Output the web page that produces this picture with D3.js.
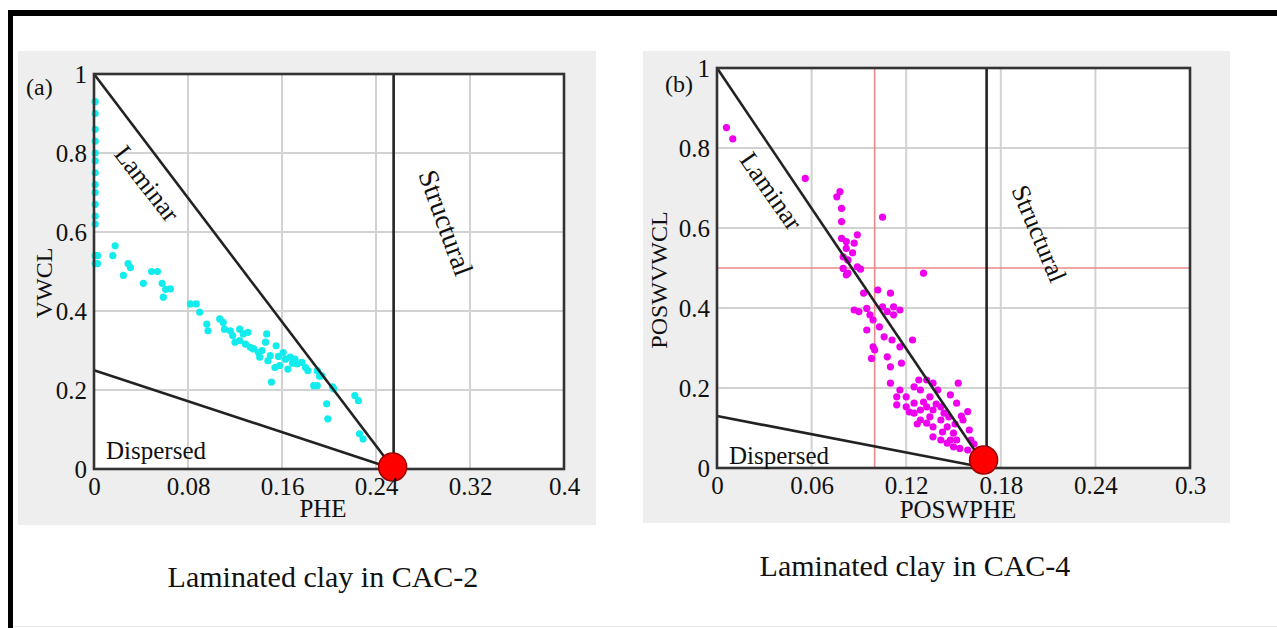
<!DOCTYPE html>
<html>
<head>
<meta charset="utf-8">
<script src="https://cdn.jsdelivr.net/npm/d3@7"></script>
<style>
  html, body { margin: 0; padding: 0; background: #fff; }
  svg { display: block; }
  text { font-family: "Liberation Serif", "Times New Roman", serif; fill: #111; }
</style>
</head>
<body>
<svg id="fig" width="1277" height="628"></svg>
<script>
// ---- Laminated clay, CAC-2 (cyan points) ----
const phe2 = [
  0.001, 0.001, 0.001, 0.001, 0.001, 0.001, 0.001, 0.001, 0.001, 0.001, 0.001, 0.001, 0.001, 0.001,
  0.003, 0.003, 0.018, 0.016, 0.029, 0.031, 0.025, 0.042, 0.049, 0.054, 0.058, 0.061, 0.059, 0.065,
  0.082, 0.087, 0.090, 0.096, 0.097, 0.107, 0.110, 0.111, 0.116,
  0.124, 0.127, 0.131, 0.120, 0.124, 0.129, 0.133, 0.136, 0.140, 0.141, 0.147, 0.146, 0.150, 0.148,
  0.155, 0.154, 0.158, 0.161, 0.163, 0.165, 0.167, 0.171, 0.173, 0.177, 0.180, 0.182, 0.190, 0.194,
  0.187, 0.190, 0.204, 0.222, 0.225, 0.198, 0.151, 0.199, 0.226, 0.229, 0.203, 0.192,
  0.118, 0.135, 0.143, 0.157, 0.169
];
const vwcl2 = [
  0.93, 0.90, 0.86, 0.83, 0.80, 0.78, 0.75, 0.72, 0.70, 0.67, 0.64, 0.62, 0.54, 0.52,
  0.54, 0.52, 0.565, 0.54, 0.52, 0.51, 0.49, 0.47, 0.50, 0.50, 0.47, 0.455, 0.435, 0.456,
  0.418, 0.418, 0.397, 0.367, 0.350, 0.380, 0.371, 0.354, 0.350,
  0.354, 0.342, 0.346, 0.321, 0.325, 0.316, 0.308, 0.304, 0.295, 0.283, 0.342, 0.321, 0.287, 0.274,
  0.312, 0.257, 0.262, 0.295, 0.278, 0.253, 0.283, 0.278, 0.266, 0.270, 0.257, 0.249, 0.249, 0.236,
  0.211, 0.211, 0.203, 0.186, 0.173, 0.165, 0.220, 0.127, 0.089, 0.076, 0.208, 0.235,
  0.338, 0.305, 0.300, 0.285, 0.268
];

// ---- Laminated clay, CAC-4 (magenta points) ----
const poswphe4 = [
  0.006, 0.010, 0.056, 0.076, 0.078, 0.079, 0.079, 0.105,
  0.079, 0.082, 0.089, 0.087, 0.082, 0.086, 0.080, 0.083, 0.091, 0.083, 0.131, 0.082,
  0.080, 0.083, 0.089,
  0.093, 0.102, 0.110, 0.087, 0.090, 0.095, 0.097, 0.099, 0.095, 0.105, 0.108, 0.112, 0.116, 0.112,
  0.103, 0.106, 0.111, 0.116, 0.124, 0.099, 0.098, 0.108, 0.110, 0.117, 0.100,
  0.110, 0.116, 0.114, 0.120, 0.125, 0.128, 0.129, 0.133, 0.137, 0.140, 0.135, 0.153, 0.114,
  0.148, 0.152, 0.159, 0.156, 0.160, 0.161,
  0.120, 0.125, 0.129, 0.133, 0.137, 0.142, 0.129, 0.133, 0.137, 0.142, 0.146, 0.150,
  0.137, 0.142, 0.146, 0.150, 0.154, 0.148, 0.152, 0.159, 0.125, 0.144, 0.147, 0.135,
  0.131, 0.139, 0.143, 0.151, 0.155, 0.163, 0.127, 0.122
];
const poswvwcl4 = [
  0.851, 0.823, 0.724, 0.678, 0.691, 0.649, 0.616, 0.627,
  0.574, 0.566, 0.583, 0.562, 0.549, 0.538, 0.528, 0.520, 0.497, 0.487, 0.487, 0.483,
  0.499, 0.520, 0.503,
  0.437, 0.445, 0.437, 0.395, 0.391, 0.399, 0.383, 0.370, 0.345, 0.403, 0.391, 0.403, 0.395, 0.383,
  0.353, 0.328, 0.320, 0.303, 0.320, 0.303, 0.274, 0.278, 0.253, 0.262, 0.295,
  0.212, 0.195, 0.158, 0.178, 0.203, 0.220, 0.195, 0.220, 0.212, 0.195, 0.178, 0.212, 0.178,
  0.183, 0.162, 0.141, 0.120, 0.095, 0.070,
  0.153, 0.137, 0.145, 0.153, 0.145, 0.153, 0.120, 0.112, 0.103, 0.120, 0.103, 0.087,
  0.078, 0.070, 0.062, 0.053, 0.049, 0.070, 0.070, 0.045, 0.162, 0.137, 0.128, 0.128,
  0.165, 0.160, 0.090, 0.110, 0.130, 0.060, 0.110, 0.140
];

const xTicks2 = [0, 0.08, 0.16, 0.24, 0.32, 0.4];
const xTicks4 = [0, 0.06, 0.12, 0.18, 0.24, 0.3];
const yTicks = [0, 0.2, 0.4, 0.6, 0.8, 1];

// clay end-point (x value where the Laminar, Dispersed and Structural lines meet)
const clayPoint2 = 0.255;
const clayPoint4 = 0.171;
// y intercept of the Dispersed boundary
const dispersedStart2 = 0.25;
const dispersedStart4 = 0.13;
// reference cross lines on panel (b)
const crossX4 = 0.1;
const crossY4 = 0.5;

const svg = d3.select("#fig");

// page frame
svg.append("rect").attr("x", 8).attr("y", 10).attr("width", 1269).attr("height", 6).attr("fill", "#000");
svg.append("rect").attr("x", 8).attr("y", 10).attr("width", 5).attr("height", 618).attr("fill", "#000");
svg.append("line").attr("x1", 13).attr("x2", 1277).attr("y1", 626.5).attr("y2", 626.5)
  .attr("stroke", "#e6e6e6").attr("stroke-width", 1);

function fmt(v) { return v === 0 ? "0" : String(+v.toFixed(2)); }

function drawPanel(cfg) {
  const g = svg.append("g");
  // grey panel
  g.append("rect").attr("x", cfg.panel[0]).attr("y", cfg.panel[1])
    .attr("width", cfg.panel[2]).attr("height", cfg.panel[3]).attr("fill", "#eeeeee");

  const x = d3.scaleLinear().domain([0, cfg.xMax]).range([cfg.left, cfg.right]);
  const y = d3.scaleLinear().domain([0, 1]).range([cfg.bottom, cfg.top]);

  // plot area
  g.append("rect").attr("x", cfg.left).attr("y", cfg.top)
    .attr("width", cfg.right - cfg.left).attr("height", cfg.bottom - cfg.top).attr("fill", "#fff");

  // grid
  const grid = g.append("g").attr("stroke", "#d2d2d2").attr("stroke-width", 2);
  cfg.xTicks.slice(1, -1).forEach(t => grid.append("line")
    .attr("x1", x(t)).attr("x2", x(t)).attr("y1", cfg.top).attr("y2", cfg.bottom));
  yTicks.slice(1, -1).forEach(t => grid.append("line")
    .attr("x1", cfg.left).attr("x2", cfg.right).attr("y1", y(t)).attr("y2", y(t)));

  // optional reference cross
  if (cfg.cross) {
    g.append("line").attr("x1", x(cfg.cross[0])).attr("x2", x(cfg.cross[0]))
      .attr("y1", cfg.top).attr("y2", cfg.bottom).attr("stroke", "#e88a8a").attr("stroke-width", 1.6);
    g.append("line").attr("x1", cfg.left).attr("x2", cfg.right)
      .attr("y1", y(cfg.cross[1])).attr("y2", y(cfg.cross[1])).attr("stroke", "#e88a8a").attr("stroke-width", 1.6);
  }

  // data points
  g.append("g").selectAll("circle").data(cfg.xs.map((v, i) => [v, cfg.ys[i]])).join("circle")
    .attr("cx", d => x(d[0])).attr("cy", d => y(d[1])).attr("r", 3.6).attr("fill", cfg.color);

  // Thomas-Stieber boundary lines
  const lines = g.append("g").attr("stroke", "#222").attr("stroke-width", 2.6).attr("fill", "none");
  lines.append("line").attr("x1", x(0)).attr("y1", y(1)).attr("x2", x(cfg.clay)).attr("y2", y(0));
  lines.append("line").attr("x1", x(0)).attr("y1", y(cfg.disp)).attr("x2", x(cfg.clay)).attr("y2", y(0));
  lines.append("line").attr("x1", x(cfg.clay)).attr("y1", y(1)).attr("x2", x(cfg.clay)).attr("y2", y(0));

  // frame
  g.append("rect").attr("x", cfg.left).attr("y", cfg.top)
    .attr("width", cfg.right - cfg.left).attr("height", cfg.bottom - cfg.top)
    .attr("fill", "none").attr("stroke", "#333").attr("stroke-width", 2.6);

  // clay point
  g.append("circle").attr("cx", x(cfg.clay) - cfg.dotShift[0]).attr("cy", y(0) - cfg.dotShift[1]).attr("r", 14)
    .attr("fill", "#ff0000").attr("stroke", "#9a0000").attr("stroke-width", 1.5);

  // axes (labels only, frame drawn above)
  const xAxis = d3.axisBottom(x).tickValues(cfg.xTicks).tickFormat(fmt).tickSize(0).tickPadding(8);
  const xa = g.append("g").attr("transform", `translate(0,${cfg.bottom})`).call(xAxis);
  const yAxis = d3.axisLeft(y).tickValues(yTicks).tickFormat(fmt).tickSize(0).tickPadding(7);
  const ya = g.append("g").attr("transform", `translate(${cfg.left},0)`).call(yAxis);
  [xa, ya].forEach(a => {
    a.select(".domain").remove();
    a.selectAll("text").attr("font-family", "Liberation Serif, serif").attr("font-size", 25).attr("fill", "#111");
  });

  // axis titles
  g.append("text").attr("x", cfg.xTitle[0]).attr("y", cfg.xTitle[1]).attr("text-anchor", "middle")
    .attr("font-size", 25).text(cfg.xLabel);
  g.append("text").attr("transform", `translate(${cfg.yTitle[0]},${cfg.yTitle[1]}) rotate(-90)`)
    .attr("text-anchor", "middle").attr("font-size", 24).text(cfg.yLabel);

  // panel tag
  g.append("text").attr("x", cfg.tag[0]).attr("y", cfg.tag[1]).attr("font-size", 24).text(cfg.tagText);

  // region labels
  g.append("text").attr("transform", `translate(${cfg.lam[0]},${cfg.lam[1]}) rotate(${cfg.lam[2]})`)
    .attr("text-anchor", "middle").attr("font-size", 26).text("Laminar");
  g.append("text").attr("transform", `translate(${cfg.str[0]},${cfg.str[1]}) rotate(${cfg.str[2]})`)
    .attr("text-anchor", "middle").attr("font-size", cfg.str[3]).text("Structural");
  g.append("text").attr("x", cfg.dsp[0]).attr("y", cfg.dsp[1]).attr("font-size", 25).text("Dispersed");

  // caption
  svg.append("text").attr("x", cfg.caption[0]).attr("y", cfg.caption[1]).attr("text-anchor", "middle")
    .attr("font-size", 30).text(cfg.captionText);
}

drawPanel({
  panel: [18, 51, 578, 474],
  left: 94, right: 564, top: 74, bottom: 469,
  xMax: 0.4, xTicks: xTicks2,
  xs: phe2, ys: vwcl2, color: "#12ecec",
  clay: clayPoint2, disp: dispersedStart2, dotShift: [1, 2],
  xLabel: "PHE", xTitle: [323, 517],
  yLabel: "VWCL", yTitle: [52, 283],
  tag: [26, 95], tagText: "(a)",
  lam: [140, 189, 52], str: [437, 226, 70, 28], dsp: [106, 459],
  caption: [323, 587], captionText: "Laminated clay in CAC-2"
});

drawPanel({
  panel: [643, 51, 587, 472],
  left: 717, right: 1190, top: 68, bottom: 468,
  xMax: 0.3, xTicks: xTicks4,
  xs: poswphe4, ys: poswvwcl4, color: "#ee00ee",
  clay: clayPoint4, disp: dispersedStart4, cross: [crossX4, crossY4], dotShift: [3, 8],
  xLabel: "POSWPHE", xTitle: [958, 518],
  yLabel: "POSWVWCL", yTitle: [667, 280],
  tag: [665, 92], tagText: "(b)",
  lam: [764, 196, 55], str: [1031, 237, 67, 26], dsp: [729, 464],
  caption: [915, 576], captionText: "Laminated clay in CAC-4"
});
</script>
</body>
</html>
